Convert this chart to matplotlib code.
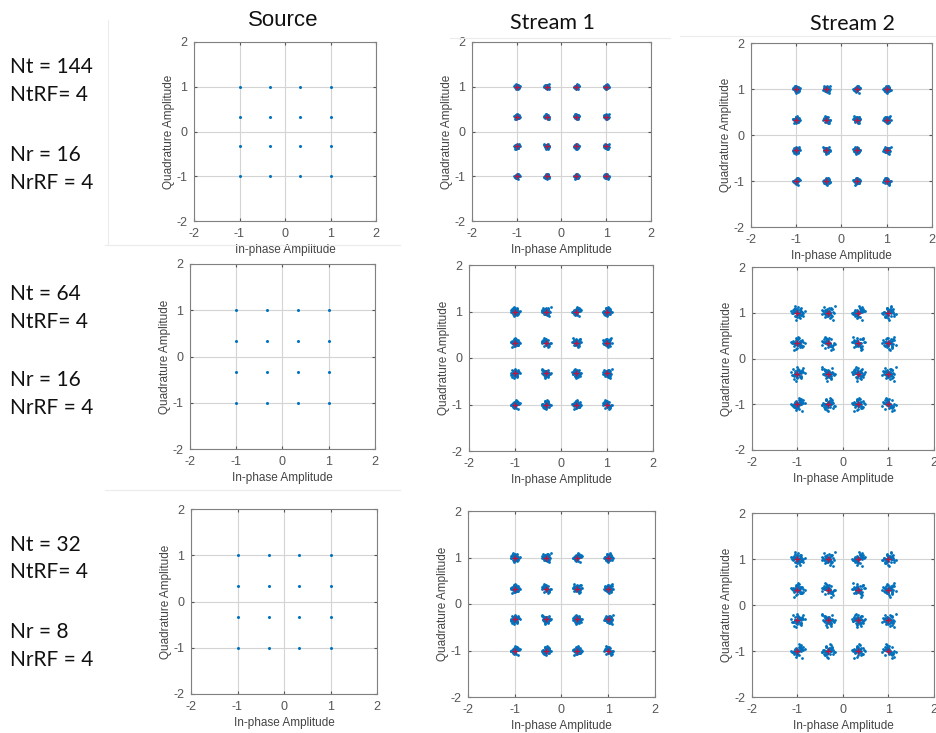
import matplotlib
matplotlib.use("Agg")
import matplotlib.pyplot as plt
import numpy as np

# 16-QAM levels (normalised)
levels = [-1.0, -0.333, 0.333, 1.0]

col_titles = ["Source", "Stream 1", "Stream 2"]
row_labels = [
    ["Nt = 144", "NtRF= 4", "Nr = 16", "NrRF = 4"],
    ["Nt = 64", "NtRF= 4", "Nr = 16", "NrRF = 4"],
    ["Nt = 32", "NtRF= 4", "Nr = 8", "NrRF = 4"],
]

# rough scatter size of each received cluster
spread = [
    [0.0, 0.030, 0.040],
    [0.0, 0.050, 0.075],
    [0.0, 0.050, 0.075],
]

# hand typed offsets (unit scale) used for the received points around a symbol
off_x = [0.3, -0.8, 1.2, -0.2, 0.6, -1.4, 0.1, 0.9, -0.5, 1.7, -1.1, 0.4, -0.3, 0.0,
         1.0, -0.7, 0.2, -1.8, 0.8, -0.1, 1.4, -0.6, 0.5, -0.9, 0.0, 2.1, -0.4, 0.7,
         -1.2, 0.3, -0.2, 1.1, -1.6, 0.6, -0.3, 0.9, -0.8, 0.2, 1.5, -0.5]
off_y = [-0.5, 0.4, 0.1, -1.3, 0.9, -0.2, 1.6, -0.7, 0.3, 0.0, 1.0, -1.1, 0.6, -0.4,
         1.3, -0.9, 0.2, 0.5, -1.6, 0.8, -0.3, 1.9, -0.8, 0.1, -0.2, 0.4, -1.0, 1.2,
         0.7, 0.0, 1.1, -0.6, -0.1, 0.3, -2.0, 0.5, 1.4, -0.4, -0.9, 0.2]

# axes boxes in pixels: left, top, right, bottom
boxes = [
    [(194, 42, 376, 221), (472, 42, 651, 221), (751, 43, 932, 227)],
    [(190, 264, 375, 449), (469, 265, 653, 451), (752, 267, 934, 450)],
    [(191, 509, 377, 694), (468, 511, 655, 697), (752, 513, 934, 697)],
]
label_y = [[67, 95, 155, 183], [294, 322, 380, 408], [545, 572, 632, 660]]

W, H = 937, 733
BLUE = "#0072BD"
RED = "#C0143C"

plt.rcParams["font.family"] = ["Liberation Sans", "DejaVu Sans"]
plt.rcParams["axes.unicode_minus"] = False
fig = plt.figure(figsize=(W / 100, H / 100), dpi=100)

for r in range(3):
    for c in range(3):
        l, t, rr, b = boxes[r][c]
        ax = fig.add_axes([l / W, 1 - b / H, (rr - l) / W, (b - t) / H])
        xs, ys = [], []
        k = 0
        for qy in levels[::-1]:
            for qx in levels:
                if spread[r][c] == 0:
                    xs.append(qx)
                    ys.append(qy)
                else:
                    ox = np.roll(off_x, 3 * k)
                    oy = np.roll(off_y, 7 * k)
                    xs.extend(qx + spread[r][c] * ox)
                    ys.extend(qy + spread[r][c] * oy)
                k += 1
        ax.plot(xs, ys, "o", color=BLUE, ms=2.0 if c else 2.2, mew=0, zorder=3)
        if c:
            ref_x = [qx for qy in levels for qx in levels]
            ref_y = [qy for qy in levels for qx in levels]
            ax.plot(ref_x, ref_y, "+", color=RED, ms=5, mew=1.0, zorder=4)
        ax.set_xlim(-2, 2)
        ax.set_ylim(-2, 2)
        ax.set_xticks([-2, -1, 0, 1, 2])
        ax.set_yticks([-2, -1, 0, 1, 2])
        ax.grid(True, color="#d4d4d4", lw=0.8)
        ax.set_axisbelow(True)
        ax.tick_params(direction="in", length=2.5, labelsize=9, colors="#555555",
                       pad=5, top=True, right=True)
        for s in ax.spines.values():
            s.set_color("#808080")
            s.set_linewidth(0.8)
        ax.set_xlabel("In-phase Amplitude", fontsize=8.5, color="#444444", labelpad=3)
        ax.set_ylabel("Quadrature Amplitude", fontsize=8.5, color="#444444", labelpad=1)

    for i, txt in enumerate(row_labels[r]):
        fig.text(10 / W, 1 - label_y[r][i] / H, txt, fontsize=15, va="center",
                 ha="left", family=["Lato", "DejaVu Sans"], color="#111111")

title_pos = [(283, 20), (552, 23), (852, 24)]
for i, txt in enumerate(col_titles):
    fam = ["Liberation Sans"] if i == 0 else ["Lato", "DejaVu Sans"]
    fig.text(title_pos[i][0] / W, 1 - title_pos[i][1] / H, txt,
             fontsize=16 if i == 0 else 15.5,
             ha="center", va="center", family=fam, color="#111111")

# faint screenshot seams
seams = [((108, 108), (20, 245)), ((450, 670), (38, 38)), ((680, 937), (36, 36)),
         ((105, 400), (490, 490)), ((105, 400), (245, 245))]
for (x0, x1), (y0, y1) in seams:
    fig.add_artist(plt.Line2D([x0 / W, x1 / W], [1 - y0 / H, 1 - y1 / H],
                              color="#ececec", lw=0.8, transform=fig.transFigure))

fig.savefig("out.png", dpi=100)
